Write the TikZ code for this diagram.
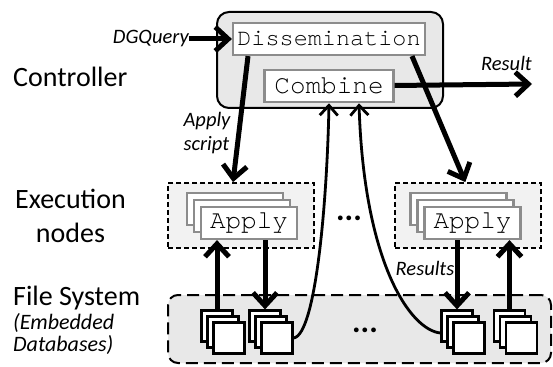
\documentclass[tikz,border=0pt]{standalone}
\usepackage{fontspec}
\setmainfont{Carlito}
\newfontfamily\codefont{TeX Gyre Cursor}
\usetikzlibrary{positioning,arrows.meta}

\begin{document}
\begin{tikzpicture}[
			x=1pt, y=-1pt,
			layer/.style={
				font=\fontsize{28}{34}\selectfont,
				align=center,
				inner sep=0pt
			},
			tag/.style={
				font=\fontsize{20.5}{24}\selectfont\itshape,
				align=left,
				inner sep=0pt
			},
			ctrlbox/.style={
				draw,
				line width=2pt,
				rounded corners=12pt,
				fill=gray!18,
				minimum width=226pt,
				minimum height=96pt
			},
			codebox/.style={
				draw=black!45,
				line width=2.2pt,
				fill=white,
				font=\codefont\fontsize{26}{26}\selectfont,
				inner sep=0pt,
				minimum height=32pt
			},
			execbox/.style={
				draw,
				dash pattern=on 5pt off 3pt,
				line width=1.8pt,
				fill=gray!10,
				minimum width=146pt,
				minimum height=65pt
			},
			fsbox/.style={
				draw,
				line width=2pt,
				dash pattern=on 12pt off 6pt,
				rounded corners=10pt,
				fill=gray!18,
				minimum width=383pt,
				minimum height=68pt
			},
			dbbox/.style={
				draw,
				line width=2.2pt,
				fill=white,
				minimum size=31pt,
				inner sep=0pt
			},
			dots/.style={
				font=\fontsize{32}{32}\selectfont\bfseries,
				inner sep=0pt
			},
			arrow/.style={
				line width=5pt,
				-{Straight Barb[length=13pt,width=24pt]}
			},
			thinarrow/.style={
				line width=2.8pt,
				-{Straight Barb[length=10pt,width=18pt]}
			}
			]
			\useasboundingbox (0,0) rectangle (553,366);
			
			% Nodes
			\node[ctrlbox] (ctrl) at (330,60) {};
			\node[codebox, minimum width=192pt, font=\codefont\fontsize{23.5}{24}\selectfont] (diss) at (329,39) {Dissemination};
			\node[codebox, minimum width=129pt, below=13pt of diss] (comb) {Combine};
			\node[tag, left=43pt of diss] (dgq) {DGQuery};
			\coordinate (resend) at (532,84);
			\node[tag, above left=13pt and 0pt of resend] (res) {Result};
			\node[tag] (scriptlbl) at (207,133) {Apply\\script};
			
			\node[layer, anchor=base west] (ctrllbl) at (13,87) {Controller};
			\node[layer] (execlbl) at (70.5,216) {Execution\\nodes};
			\node[layer, anchor=base west] (fslbl) at (13,305) {File System};
			\node[tag, font=\fontsize{22}{22}\selectfont\itshape, below right=4pt and 0pt of fslbl.south west] (fssub) {(Embedded\\Databases)};
			
			\node[execbox] (execL) at (241,215.5) {};
			\node[execbox, right=79pt of execL] (execR) {};
			\foreach \k in {2,1}
				\node[codebox, minimum width=96pt] (applyL\k) at (249-7*\k,223-7*\k) {};
			\node[codebox, minimum width=96pt] (applyL0) at (249,223) {Apply};
			\foreach \k in {2,1}
				\node[codebox, minimum width=96pt] (applyR\k) at (472.5-7*\k,223-7*\k) {};
			\node[codebox, minimum width=96pt] (applyR0) at (472.5,223) {Apply};
			\node[dots] (execdots) at (349,218) {...};
			
			\node[fsbox] (fs) at (359.5,329) {};
			\foreach \g/\x in {a/229,b/277,c/469,d/521.5}
				\foreach \k in {2,1,0}
					\node[dbbox] (db\g\k) at (\x-6*\k,338-6*\k) {};
			\node[dots] (fsdots) at (365,330) {...};
			
			% Arrows
			\draw[arrow] (dgq) -- (diss);
			\draw[arrow] ([xshift=-81pt]diss.south) -- ([xshift=-8pt]execL.north);
			\draw[arrow] ([xshift=83pt]diss.south) -- ([xshift=-2.5pt]execR.north);
			\draw[arrow] (comb) -- (resend);
			\draw[arrow] (dba2.north) -- (dba2.north |- applyL0.south);
			\draw[arrow] (applyL0.south -| dbb2.north) -- (dbb2.north);
			\draw[arrow] (applyR0.south -| dbc2.north) -- (dbc2.north);
			\draw[arrow] (dbd2.north) -- (dbd2.north |- applyR0.south);
			\node[tag] (reslbl) at (425,268) {Results};
			\draw[thinarrow] (dbb0.east) .. controls +(22,-3) and +(-2,100) .. (comb.south);
			\draw[thinarrow] ([yshift=-7pt]dbc2.west) .. controls +(-30,-3) and +(5,160) .. ([xshift=30pt]comb.south);
			
		\end{tikzpicture}
\end{document}
